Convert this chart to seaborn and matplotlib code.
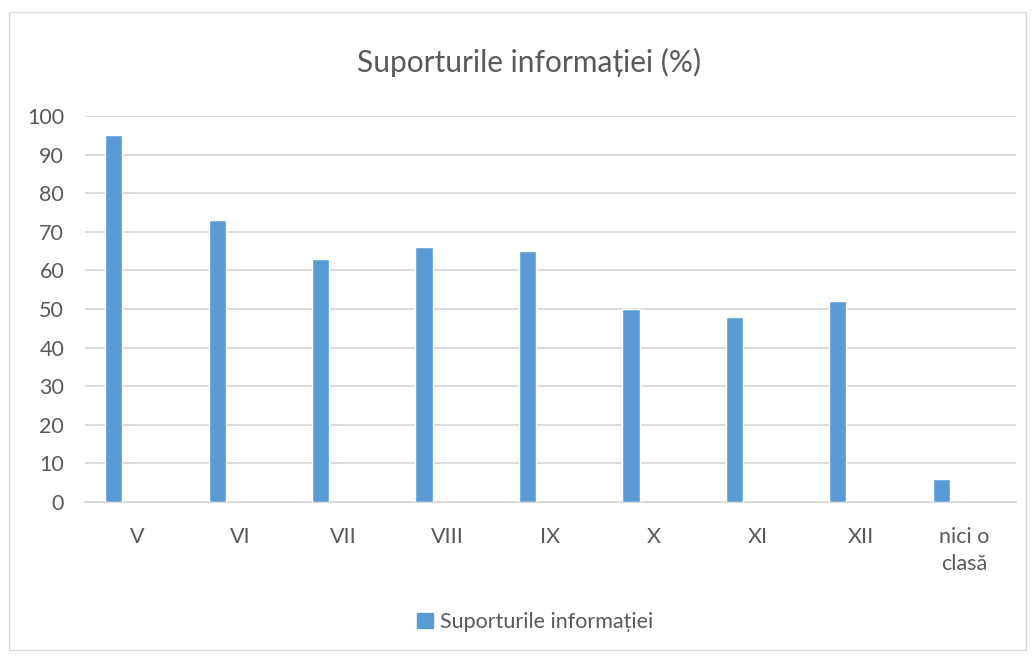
import pandas as pd
import matplotlib.pyplot as plt
import matplotlib.patches as mpatches
import seaborn as sns

# chart data
classes = ["V", "VI", "VII", "VIII", "IX", "X", "XI", "XII", "nici o\nclasă"]
values = [95, 73, 63, 66, 65, 50, 48, 52, 6]
series_name = "Suporturile informației"
title = "Suporturile informației (%)"

bar_color = "#5b9bd5"
text_color = "#595959"
grid_color = "#d9d9d9"

sns.set_theme(style="white")
plt.rcParams["font.family"] = ["Lato", "DejaVu Sans"]

df = pd.DataFrame({"clasa": classes, "procent": values})

fig = plt.figure(figsize=(10.35, 6.59), dpi=100)
ax = fig.add_axes([0.0821, 0.2382, 0.8995, 0.5857])

sns.barplot(data=df, x="clasa", y="procent", color=bar_color,
            width=0.167, saturation=1, ax=ax, zorder=3)

# Excel leaves the bar left of the category centre
for p in ax.patches:
    p.set_x(p.get_x() - 0.222)

ax.set_xlim(-0.5, len(classes) - 0.5)
ax.set_ylim(0, 100)
ax.set_yticks(range(0, 101, 10))
ax.yaxis.grid(True, color=grid_color, linewidth=1.3, zorder=0)
ax.set_axisbelow(True)
for s in ["top", "right", "left"]:
    ax.spines[s].set_visible(False)
ax.spines["bottom"].set_color(grid_color)
ax.spines["bottom"].set_linewidth(1.3)
ax.tick_params(axis="both", length=0, colors=text_color, labelsize=15.5)
ax.tick_params(axis="x", pad=18)
ax.tick_params(axis="y", pad=15)
for lbl in ax.get_xticklabels():
    lbl.set_linespacing(1.45)
ax.set_xlabel("")
ax.set_ylabel("")

fig.text(0.511, 0.906, title, ha="center", va="center",
         fontsize=21.5, color=text_color)

handle = mpatches.Patch(color=bar_color, label=series_name)
fig.legend(handles=[handle], loc="center", bbox_to_anchor=(0.517, 0.056),
           frameon=False, fontsize=15.5, handlelength=0.75, handleheight=0.75,
           handletextpad=0.3, labelcolor=text_color)

border = mpatches.Rectangle((0.009, 0.014), 0.982, 0.968, transform=fig.transFigure,
                            fill=False, edgecolor=grid_color, linewidth=1)
fig.patches.append(border)

fig.savefig("out.png", dpi=100)
